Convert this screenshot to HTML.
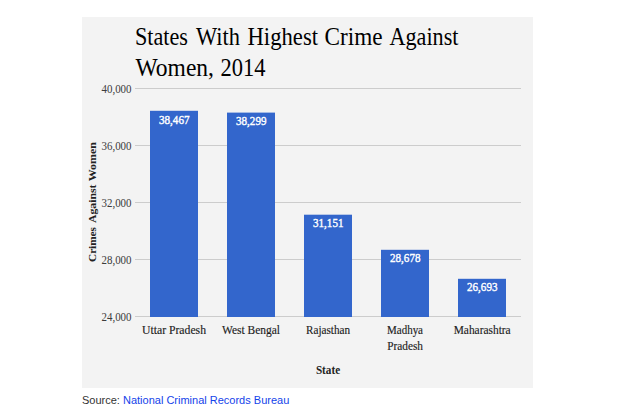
<!DOCTYPE html>
<html>
<head>
<meta charset="utf-8">
<style>
html,body{margin:0;padding:0;background:#fff;}
body{width:622px;height:414px;overflow:hidden;position:relative;font-family:"Liberation Sans",sans-serif;}
svg{position:absolute;left:0;top:0;display:block;}
text{font-family:"Liberation Serif",serif;}
.sans{font-family:"Liberation Sans",sans-serif;}
</style>
</head>
<body>
<svg width="622" height="414" viewBox="0 0 622 414">
  <rect x="0" y="0" width="622" height="414" fill="#ffffff"/>
  <rect x="82" y="17" width="451" height="371" fill="#f3f3f3"/>

  <!-- gridlines -->
  <g fill="#cccccc">
    <rect x="135" y="88" width="386" height="1"/>
    <rect x="135" y="145" width="386" height="1"/>
    <rect x="135" y="202" width="386" height="1"/>
    <rect x="135" y="259" width="386" height="1"/>
    <rect x="135" y="316" width="386" height="1"/>
  </g>

  <!-- bars -->
  <g fill="#3366cc">
    <rect x="150" y="110.8" width="48" height="206.2"/>
    <rect x="227" y="112.6" width="48" height="204.4"/>
    <rect x="304" y="214.7" width="48" height="102.3"/>
    <rect x="381" y="249.8" width="48" height="67.2"/>
    <rect x="458" y="278.8" width="48" height="38.2"/>
  </g>

  <!-- title -->
  <g fill="#000000" font-size="24.3">
    <text x="135" y="44.7" textLength="53" lengthAdjust="spacingAndGlyphs">States</text>
    <text x="196" y="44.7" textLength="44" lengthAdjust="spacingAndGlyphs">With</text>
    <text x="247.5" y="44.7" textLength="70.5" lengthAdjust="spacingAndGlyphs">Highest</text>
    <text x="324.5" y="44.7" textLength="58" lengthAdjust="spacingAndGlyphs">Crime</text>
    <text x="389.5" y="44.7" textLength="69" lengthAdjust="spacingAndGlyphs">Against</text>
    <text x="135.5" y="76" textLength="78.5" lengthAdjust="spacingAndGlyphs">Women,</text>
    <text x="220.5" y="76" textLength="45" lengthAdjust="spacingAndGlyphs">2014</text>
  </g>

  <!-- y labels -->
  <g fill="#3c3c3c" font-size="12.5" text-anchor="end">
    <text x="131.5" y="92.5" textLength="30" lengthAdjust="spacingAndGlyphs">40,000</text>
    <text x="131.5" y="149.5" textLength="30" lengthAdjust="spacingAndGlyphs">36,000</text>
    <text x="131.5" y="206.5" textLength="30" lengthAdjust="spacingAndGlyphs">32,000</text>
    <text x="131.5" y="263.5" textLength="30" lengthAdjust="spacingAndGlyphs">28,000</text>
    <text x="131.5" y="320.5" textLength="30" lengthAdjust="spacingAndGlyphs">24,000</text>
  </g>

  <!-- bar value labels -->
  <g fill="#ffffff" font-size="12.5" stroke="#ffffff" stroke-width="0.4">
    <text x="159" y="123.5" textLength="30.5" lengthAdjust="spacingAndGlyphs">38,467</text>
    <text x="236" y="125.2" textLength="30.5" lengthAdjust="spacingAndGlyphs">38,299</text>
    <text x="313" y="227.3" textLength="30.5" lengthAdjust="spacingAndGlyphs">31,151</text>
    <text x="390" y="262.3" textLength="30.5" lengthAdjust="spacingAndGlyphs">28,678</text>
    <text x="467" y="291.2" textLength="30.5" lengthAdjust="spacingAndGlyphs">26,693</text>
  </g>

  <!-- x labels -->
  <g fill="#1c1c1c" font-size="12" stroke="#1c1c1c" stroke-width="0.15">
    <text x="142" y="334" textLength="64" lengthAdjust="spacingAndGlyphs">Uttar Pradesh</text>
    <text x="222" y="334" textLength="58" lengthAdjust="spacingAndGlyphs">West Bengal</text>
    <text x="306" y="334" textLength="44" lengthAdjust="spacingAndGlyphs">Rajasthan</text>
    <text x="387" y="334" textLength="36" lengthAdjust="spacingAndGlyphs">Madhya</text>
    <text x="387.3" y="349.8" textLength="35.7" lengthAdjust="spacingAndGlyphs">Pradesh</text>
    <text x="453.7" y="334" textLength="57" lengthAdjust="spacingAndGlyphs">Maharashtra</text>
  </g>

  <!-- axis titles -->
  <text x="315.9" y="373.6" font-size="12" font-weight="bold" fill="#222222" textLength="24.2" lengthAdjust="spacingAndGlyphs">State</text>
  <g transform="translate(96,262) rotate(-90)" font-size="11.3" font-weight="bold" fill="#222222">
    <text x="0" y="0" textLength="35" lengthAdjust="spacingAndGlyphs">Crimes</text>
    <text x="39" y="0" textLength="38.5" lengthAdjust="spacingAndGlyphs">Against</text>
    <text x="80.8" y="0" textLength="39" lengthAdjust="spacingAndGlyphs">Women</text>
  </g>

  <!-- source -->
  <text class="sans" x="82" y="403.5" font-size="11" fill="#333333">Source: <tspan fill="#1443ea">National Criminal Records Bureau</tspan></text>
</svg>
</body>
</html>
